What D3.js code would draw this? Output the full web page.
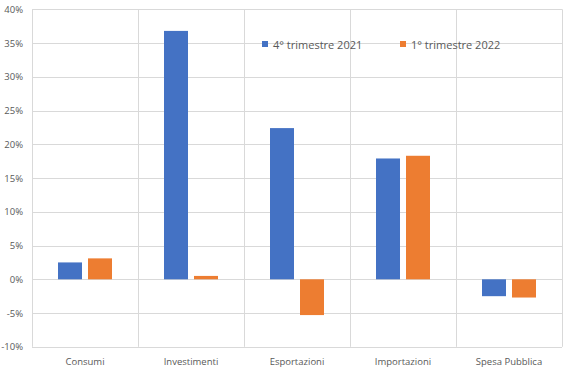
<!DOCTYPE html>
<html><head><meta charset="utf-8">
<script src="https://cdn.jsdelivr.net/npm/d3@7"></script>
<style>body{margin:0;background:#fff}</style>
</head><body>
<svg id="c" width="564" height="372"></svg>
<script>
const categories = ["Consumi","Investimenti","Esportazioni","Importazioni","Spesa Pubblica"];
const seriesNames = ["4° trimestre 2021","1° trimestre 2022"];
const q4_2021 = [2.5, 36.8, 22.4, 17.9, -2.5];
const q1_2022 = [3.1, 0.5, -5.3, 18.3, -2.7];
const yTicks = [-10,-5,0,5,10,15,20,25,30,35,40];
const colors = ["#4472C4","#ED7D31"];

const svg = d3.select("#c");
const font = "'Open Sans', sans-serif";
const x = d3.scaleBand().domain(categories).range([32,562]).paddingInner(0).paddingOuter(0);
const y = d3.scaleLinear().domain([-10,40]).range([346.8,9.3]);
const inner = d3.scaleBand().domain([0,1]).range([26,80]).paddingInner(0.2);

// horizontal gridlines
svg.append("g").selectAll("line").data(yTicks).join("line")
  .attr("x1",32).attr("x2",562)
  .attr("y1",d=>Math.round(y(d))+0.5).attr("y2",d=>Math.round(y(d))+0.5)
  .attr("stroke","#D9D9D9").attr("stroke-width",1);
// vertical lines
const vx = d3.range(categories.length+1).map(i=> i<categories.length ? x(categories[i]) : 562);
svg.append("g").selectAll("line").data(vx).join("line")
  .attr("x1",d=>Math.round(d)+0.5).attr("x2",d=>Math.round(d)+0.5)
  .attr("y1",y(40)).attr("y2",y(-10))
  .attr("stroke","#D9D9D9").attr("stroke-width",1);

// y labels
svg.append("g").selectAll("text").data(yTicks).join("text")
  .attr("x",23).attr("y",d=>y(d)+3.5).attr("text-anchor","end")
  .attr("font-family",font).attr("font-size",9.5).attr("fill","#595959")
  .text(d=>d+"%");

// x labels
svg.append("g").selectAll("text").data(categories).join("text")
  .attr("x",d=>x(d)+x.bandwidth()/2).attr("y",365).attr("text-anchor","middle")
  .attr("font-family",font).attr("font-size",9.5).attr("fill","#595959")
  .text(d=>d);

// bars
const series = [q4_2021,q1_2022];
series.forEach((vals,si)=>{
  svg.append("g").selectAll("rect").data(vals).join("rect")
    .attr("x",(d,i)=>x(categories[i])+inner(si))
    .attr("width",inner.bandwidth())
    .attr("y",d=>y(Math.max(0,d)))
    .attr("height",d=>Math.abs(y(d)-y(0)))
    .attr("fill",colors[si]);
});

// legend
const legX = [265,403];
const lg = svg.append("g");
seriesNames.forEach((n,i)=>{
  lg.append("rect").attr("x",legX[i]-3).attr("y",41).attr("width",6).attr("height",6).attr("fill",colors[i]);
  lg.append("text").attr("x",legX[i]+8).attr("y",48.5)
    .attr("font-family",font).attr("font-size",11).attr("fill","#595959").text(n);
});
</script>
</body></html>
